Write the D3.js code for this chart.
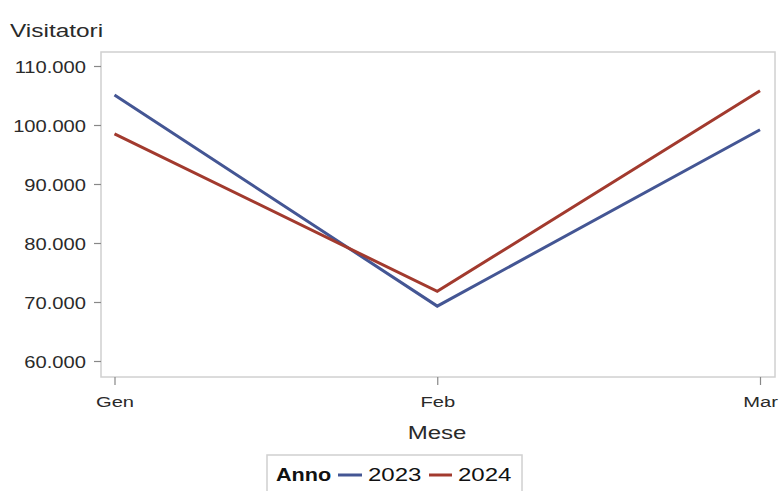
<!DOCTYPE html>
<html><head><meta charset="utf-8">
<script src="https://cdn.jsdelivr.net/npm/d3@7"></script>
<style>body{margin:0;background:#fff}svg{display:block}</style>
</head><body>
<script>
const months = ["Gen","Feb","Mar"];
const years = ["2023","2024"];
const values2023 = [105100, 69300, 99200];
const values2024 = [98500, 71800, 105800];
const yTicks = [60000, 70000, 80000, 90000, 100000, 110000];
const colors = ["#445694", "#A23A2E"];
const seriesValues = [values2023, values2024];

const W = 779, H = 491;
const frame = {l:101, r:775, t:52, b:377};
const svg = d3.select("body").append("svg").attr("width", W).attr("height", H)
  .style("font-family", "'Liberation Sans', Arial, sans-serif");

const x = d3.scalePoint().domain(months).range([114.5, 760]);
const y = d3.scaleLinear().domain([60000, 110000]).range([361, 66]);
const fmt = v => d3.format(",")(v).replace(/,/g, ".");

function stretchText(g, tx, ty, str, size, anchor, weight, fill, sx) {
  return g.append("text").attr("transform", `translate(${tx},${ty}) scale(${sx || 1.3},1)`)
    .attr("text-anchor", anchor).attr("font-size", size)
    .attr("font-weight", weight || "normal").attr("fill", fill || "#333").text(str);
}

// frame
svg.append("rect").attr("x", frame.l).attr("y", frame.t)
  .attr("width", frame.r - frame.l).attr("height", frame.b - frame.t)
  .attr("fill", "none").attr("stroke", "#d0d0d0").attr("stroke-width", 1.5);

// y axis
const ya = svg.append("g").attr("transform", `translate(${frame.l},0)`)
  .call(d3.axisLeft(y).tickValues(yTicks).tickFormat(fmt).tickSize(7).tickPadding(0));
ya.select(".domain").remove();
ya.selectAll(".tick line").attr("stroke", "#888").attr("stroke-width", 1.2);
ya.selectAll(".tick text").remove();
ya.selectAll(".tick").each(function(d) {
  stretchText(d3.select(this), -15, 6, fmt(d), 16, "end", "normal", "#2a2a2a", 1.26);
});

// x axis
const xa = svg.append("g").attr("transform", `translate(0,${frame.b})`)
  .call(d3.axisBottom(x).tickSize(8).tickPadding(0));
xa.select(".domain").remove();
xa.selectAll(".tick line").attr("stroke", "#888").attr("stroke-width", 1.2);
xa.selectAll(".tick text").remove();
xa.selectAll(".tick").each(function(d) {
  stretchText(d3.select(this), 0, 30, d, 15.5, "middle", "normal", "#2a2a2a", 1.3);
});

// titles
stretchText(svg, 10, 37, "Visitatori", 18.5, "start", "normal", "#2a2a2a", 1.32);
stretchText(svg, 437, 439, "Mese", 18.5, "middle", "normal", "#2a2a2a", 1.3);

// lines
const line = d3.line().x((d, i) => x(months[i])).y(d => y(d));
seriesValues.forEach((vals, k) => {
  svg.append("path").datum(vals).attr("d", line)
    .attr("fill", "none").attr("stroke", colors[k]).attr("stroke-width", 3)
    .attr("stroke-linejoin", "miter");
});

// legend
const lg = svg.append("g");
lg.append("rect").attr("x", 267).attr("y", 455).attr("width", 255).attr("height", 45)
  .attr("fill", "#fff").attr("stroke", "#d0d0d0").attr("stroke-width", 1.5);
stretchText(lg, 276, 481, "Anno", 18.5, "start", "bold", "#111", 1.17);
const legX = [[338, 362, 368], [429, 452, 458]];
years.forEach((yr, k) => {
  lg.append("line").attr("x1", legX[k][0]).attr("x2", legX[k][1]).attr("y1", 475).attr("y2", 475)
    .attr("stroke", colors[k]).attr("stroke-width", 3);
  stretchText(lg, legX[k][2], 481, yr, 18.5, "start", "normal", "#111", 1.3);
});
</script>
</body></html>
